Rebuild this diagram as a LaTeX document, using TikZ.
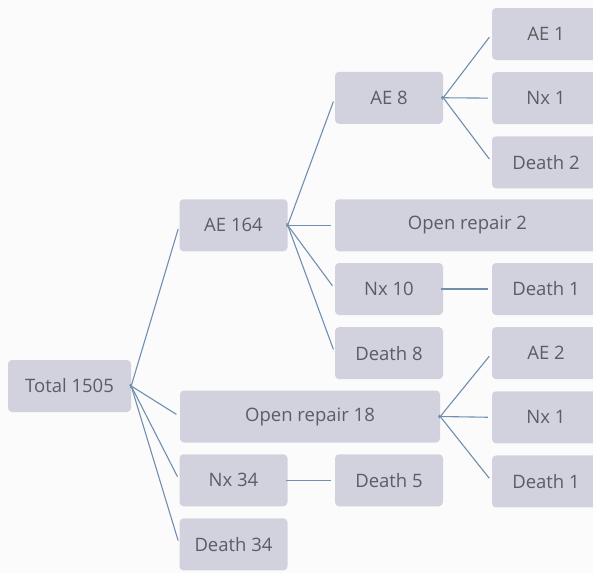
\documentclass[tikz,border=0pt]{standalone}
\usepackage{fontspec}
\setmainfont{Open Sans}
\usepackage{tikz}
\usetikzlibrary{positioning}
\definecolor{boxgray}{RGB}{209,210,222}
\definecolor{linkblue}{RGB}{112,143,176}
\definecolor{textgray}{RGB}{92,92,98}
\definecolor{paper}{RGB}{251,251,251}

\begin{document}
\begin{tikzpicture}[
  x=1pt, y=-1pt,
  node distance=11.75pt,
  box/.style={fill=boxgray, rounded corners=4pt, minimum width=108pt, minimum height=52pt, inner sep=0pt, align=center, text=textgray, font=\fontsize{18.5}{22}\selectfont},
  link/.style={draw=linkblue, line width=1.1pt, shorten >=4pt, shorten <=-2pt}
]
  \fill[paper] (0,0) rectangle (593,573);
  \clip (0,0) rectangle (593,573);

  \node[box, minimum width=123pt] (total) at (69.5,386) {Total 1505};
  \node[box] (ae164) at (233.5,225.25) {AE 164};
  \node[box, minimum width=260pt] (orep18) at (310,416.5) {Open repair 18};
  \node[box] (nx34) at (233.5,480.25) {Nx 34};
  \node[box, below=of nx34] (death34) {Death 34};

  \node[box] (ae8) at (389,97.75) {AE 8};
  \node[box, minimum width=265pt] (orep2) at (467.5,225.25) {Open repair 2};
  \node[box] (nx10) at (389,289) {Nx 10};
  \node[box, below=of nx10] (death8) {Death 8};
  \node[box] (death5) at (389,480.25) {Death 5};

  \node[box] (ae1) at (546,34) {AE 1};
  \node[box, below=of ae1] (nx1a) {Nx 1};
  \node[box, below=of nx1a] (death2) {Death 2};
  \node[box] (death1a) at (546,289) {Death 1};
  \node[box, below=of death1a] (ae2) {AE 2};
  \node[box, below=of ae2] (nx1b) {Nx 1};
  \node[box, below=of nx1b] (death1b) {Death 1};

  \draw[link] (total.east) -- (ae164.west);
  \draw[link] (total.east) -- (orep18.west);
  \draw[link] (total.east) -- (nx34.west);
  \draw[link] (total.east) -- (death34.west);

  \draw[link] (ae164.east) -- (ae8.west);
  \draw[link] (ae164.east) -- (orep2.west);
  \draw[link] (ae164.east) -- (nx10.west);
  \draw[link] (ae164.east) -- (death8.west);

  \draw[link] (ae8.east) -- (ae1.west);
  \draw[link] (ae8.east) -- (nx1a.west);
  \draw[link] (ae8.east) -- (death2.west);

  \draw[link] (nx10.east) -- (death1a.west);

  \draw[link] (orep18.east) -- (ae2.west);
  \draw[link] (orep18.east) -- (nx1b.west);
  \draw[link] (orep18.east) -- (death1b.west);

  \draw[link] (nx34.east) -- (death5.west);
\end{tikzpicture}
\end{document}
